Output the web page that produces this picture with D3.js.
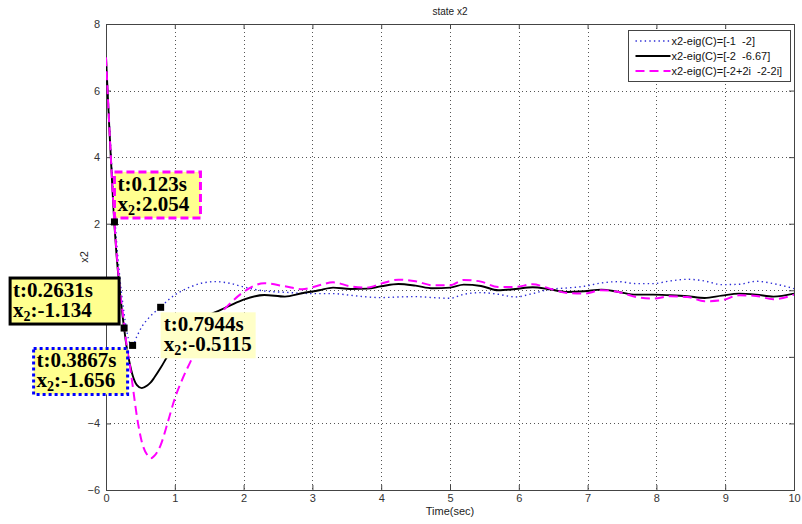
<!DOCTYPE html>
<html>
<head>
<meta charset="utf-8">
<script src="https://cdn.jsdelivr.net/npm/d3@7"></script>
<style>
  body { margin: 0; background: #fff; }
  svg { display: block; }
</style>
</head>
<body>
<svg id="chart" width="802" height="524"></svg>
<script>
// Simulation time (s) shared by the three responses
const time = [0, 0.05, 0.1, 0.123, 0.15, 0.2, 0.2631, 0.3, 0.35, 0.3867, 0.45, 0.52, 0.6, 0.65, 0.7, 0.7944,
  0.9, 1.0, 1.1, 1.25, 1.4, 1.6, 1.8, 2.0, 2.3, 2.6, 2.85, 3.1, 3.3, 3.55, 3.8, 4.0, 4.25, 4.5, 4.75,
  5.0, 5.2, 5.45, 5.7, 5.95, 6.2, 6.45, 6.7, 6.95, 7.2, 7.45, 7.7, 7.95, 8.2, 8.45, 8.7, 8.95, 9.2,
  9.45, 9.7, 10.0];

// x2 with observer poles eig(C) = [-1 -2]
const x2PolesA = [7.0, 5.0, 3.1, 2.35, 1.55, 0.4, -0.7, -1.2, -1.6, -1.656, -1.38, -1.1, -0.88, -0.77, -0.67, -0.5115,
  -0.3, -0.14, -0.02, 0.12, 0.22, 0.26, 0.21, 0.1, -0.02, -0.06, -0.09, -0.1, -0.1, -0.15, -0.2, -0.22, -0.2, -0.19, -0.22,
  -0.24, -0.12, -0.07, -0.12, -0.2, -0.1, 0.03, 0.07, 0.12, 0.22, 0.26, 0.2, 0.2, 0.28, 0.33, 0.28, 0.17, 0.18,
  0.27, 0.2, 0.05];

// x2 with observer poles eig(C) = [-2 -6.67]
const x2PolesB = [7.0, 4.8, 2.8, 1.95, 1.15, 0.0, -1.134, -1.7, -2.25, -2.55, -2.85, -2.94, -2.86, -2.77, -2.63, -2.33,
  -1.96, -1.65, -1.38, -1.07, -0.84, -0.65, -0.46, -0.28, -0.14, -0.19, -0.09, 0.0, 0.08, 0.04, 0.05, 0.12, 0.19, 0.14, 0.06,
  0.08, 0.17, 0.13, 0.0, 0.04, 0.09, 0.03, -0.05, -0.03, 0.02, -0.05, -0.13, -0.13, -0.15, -0.18, -0.23, -0.16, -0.1,
  -0.13, -0.19, -0.1];

// x2 with observer poles eig(C) = [-2+2i -2-2i]
const x2PolesC = [7.0, 4.85, 2.85, 2.054, 1.25, 0.05, -1.0, -1.65, -2.3, -2.85, -3.8, -4.55, -4.95, -5.05, -4.98, -4.65,
  -3.95, -3.25, -2.72, -2.05, -1.42, -0.85, -0.4, -0.05, 0.21, 0.12, 0.03, 0.15, 0.24, 0.12, 0.08, 0.2, 0.32, 0.27, 0.15,
  0.15, 0.31, 0.26, 0.1, 0.1, 0.18, 0.05, -0.08, -0.1, 0.0, -0.05, -0.2, -0.25, -0.18, -0.2, -0.33, -0.3, -0.15,
  -0.17, -0.27, -0.13];

const legendLabels = ["x2-eig(C)=[-1  -2]", "x2-eig(C)=[-2  -6.67]", "x2-eig(C)=[-2+2i  -2-2i]"];
const xTicks = [0, 1, 2, 3, 4, 5, 6, 7, 8, 9, 10];
const yTicks = [-6, -4, -2, 0, 2, 4, 6, 8];

// Data cursors: time, value and which response they sit on
const tipTimes = [0.123, 0.2631, 0.3867, 0.7944];
const tipValues = [2.054, -1.134, -1.656, -0.5115];
const tipSeries = [2, 1, 0, 0];

// ---------------------------------------------------------------------------
const svg = d3.select("#chart");
const plot = { left: 106, right: 794, top: 24, bottom: 490 };
const x = d3.scaleLinear().domain([0, 10]).range([plot.left, plot.right]);
const y = d3.scaleLinear().domain([-6, 8]).range([plot.bottom, plot.top]);

const sansFont = "'Liberation Sans', Arial, sans-serif";
const series = [
  { values: x2PolesA, color: "#2b2bd6", width: 1.4, dash: "1.4,3.2", cap: "butt" },
  { values: x2PolesB, color: "#000000", width: 1.9, dash: null, cap: "butt" },
  { values: x2PolesC, color: "#ff00ff", width: 2.0, dash: "9,5", cap: "butt" }
];

svg.append("rect").attr("width", 802).attr("height", 524).attr("fill", "#fff");

// Grid
const grid = svg.append("g").attr("stroke", "#555").attr("stroke-width", 1).attr("stroke-dasharray", "1,3");
grid.selectAll("line.vx").data(xTicks.filter(d => d > 0 && d < 10)).join("line")
  .attr("x1", d => Math.round(x(d)) + 0.5).attr("x2", d => Math.round(x(d)) + 0.5)
  .attr("y1", plot.top).attr("y2", plot.bottom);
grid.selectAll("line.hy").data(yTicks.filter(d => d > -6 && d < 8)).join("line")
  .attr("y1", d => Math.round(y(d)) + 0.5).attr("y2", d => Math.round(y(d)) + 0.5)
  .attr("x1", plot.left).attr("x2", plot.right);

// Axes (ticks point inward, MATLAB style)
const axisColor = "#444";
const xAxisBottom = d3.axisBottom(x).tickValues(xTicks).tickSize(-5).tickPadding(4).tickFormat(d3.format("d"));
const xAxisTop = d3.axisTop(x).tickValues(xTicks).tickSize(-5).tickFormat("");
const yAxisLeft = d3.axisLeft(y).tickValues(yTicks).tickSize(-5).tickPadding(6).tickFormat(d3.format("d"));
const yAxisRight = d3.axisRight(y).tickValues(yTicks).tickSize(-5).tickFormat("");

function styleAxis(g) {
  g.select(".domain").remove();
  g.selectAll(".tick line").attr("stroke", axisColor);
  g.selectAll(".tick text").attr("fill", "#333").style("font-family", sansFont).style("font-size", "11px");
}
svg.append("g").attr("transform", `translate(0,${plot.bottom})`).call(xAxisBottom).call(styleAxis);
svg.append("g").attr("transform", `translate(0,${plot.top})`).call(xAxisTop).call(styleAxis);
svg.append("g").attr("transform", `translate(${plot.left},0)`).call(yAxisLeft).call(styleAxis);
svg.append("g").attr("transform", `translate(${plot.right},0)`).call(yAxisRight).call(styleAxis);

svg.append("rect")
  .attr("x", plot.left + 0.5).attr("y", plot.top + 0.5)
  .attr("width", plot.right - plot.left).attr("height", plot.bottom - plot.top)
  .attr("fill", "none").attr("stroke", axisColor).attr("stroke-width", 1);

// Curves
svg.append("clipPath").attr("id", "plotClip").append("rect")
  .attr("x", plot.left).attr("y", plot.top)
  .attr("width", plot.right - plot.left).attr("height", plot.bottom - plot.top);

const line = d3.line().x(d => x(d[0])).y(d => y(d[1])).curve(d3.curveMonotoneX);
const curves = svg.append("g").attr("clip-path", "url(#plotClip)");
series.forEach(s => {
  curves.append("path")
    .datum(time.map((t, i) => [t, s.values[i]]))
    .attr("d", line)
    .attr("fill", "none")
    .attr("stroke", s.color)
    .attr("stroke-width", s.width)
    .attr("stroke-linecap", s.cap)
    .attr("stroke-linejoin", "round")
    .attr("stroke-dasharray", s.dash);
});

// Title and axis labels
svg.append("text").attr("x", (plot.left + plot.right) / 2).attr("y", 15)
  .attr("text-anchor", "middle").attr("fill", "#222")
  .style("font-family", sansFont).style("font-size", "10px").text("state x2");
svg.append("text").attr("x", (plot.left + plot.right) / 2).attr("y", 515)
  .attr("text-anchor", "middle").attr("fill", "#222")
  .style("font-family", sansFont).style("font-size", "11px").text("Time(sec)");
svg.append("text")
  .attr("transform", `translate(88,${(plot.top + plot.bottom) / 2}) rotate(-90)`)
  .attr("text-anchor", "middle").attr("fill", "#222")
  .style("font-family", sansFont).style("font-size", "11px").text("x2");

// Legend
const legend = svg.append("g").attr("transform", "translate(628.5,30.5)");
legend.append("rect").attr("width", 162).attr("height", 51)
  .attr("fill", "#fff").attr("stroke", "#444").attr("stroke-width", 1);
legendLabels.forEach((label, i) => {
  const s = series[i];
  const ly = 10.5 + i * 15;
  legend.append("line").attr("x1", 7).attr("x2", 42).attr("y1", ly).attr("y2", ly)
    .attr("stroke", s.color).attr("stroke-width", s.width).attr("stroke-dasharray", s.dash);
  legend.append("text").attr("x", 43).attr("y", ly + 4)
    .attr("fill", "#111").attr("xml:space", "preserve").style("white-space", "pre")
    .style("font-family", sansFont).style("font-size", "11px").text(label);
});

// Data cursors
const tipStyles = [
  { orient: "ur", w: 86, stroke: "#ff00ff", sw: 3, dash: "8,4", fill: "#ffff8f" },
  { orient: "ul", w: 109, stroke: "#000000", sw: 3, dash: null, fill: "#ffff8f" },
  { orient: "ll", w: 94, stroke: "#0000ff", sw: 3, dash: "3,3", fill: "#ffff8f" },
  { orient: "lr", w: 95, stroke: "none", sw: 0, dash: null, fill: "#ffffc8" }
];
const tipFont = "'Liberation Serif', 'Times New Roman', serif";
const boxH = 46;

tipTimes.forEach((t, i) => {
  const st = tipStyles[i];
  const mx = x(t), my = y(tipValues[i]);
  let bx, by;
  if (st.orient === "ur") { bx = mx; by = my - 4 - boxH; }
  else if (st.orient === "ul") { bx = mx - 5 - st.w; by = my - 4 - boxH; }
  else if (st.orient === "ll") { bx = mx - 5 - st.w; by = my + 3; }
  else { bx = mx; by = my + 5; }

  const g = svg.append("g");
  g.append("rect").attr("x", bx).attr("y", by).attr("width", st.w).attr("height", boxH)
    .attr("fill", st.fill).attr("stroke", st.stroke).attr("stroke-width", st.sw)
    .attr("stroke-dasharray", st.dash);

  const txt = g.append("text").attr("fill", "#000")
    .style("font-family", tipFont).style("font-size", "21px").style("font-weight", "bold");
  txt.append("tspan").attr("x", bx + 3).attr("y", by + 19).text(`t:${t}s`);
  txt.append("tspan").attr("x", bx + 3).attr("y", by + 39).text("x");
  txt.append("tspan").attr("dy", 4).style("font-size", "14px").text("2");
  txt.append("tspan").attr("dy", -4).text(`:${tipValues[i]}`);

  g.append("rect").attr("x", mx - 3.5).attr("y", my - 3.5).attr("width", 7).attr("height", 7)
    .attr("fill", "#000");
});
</script>
</body>
</html>
